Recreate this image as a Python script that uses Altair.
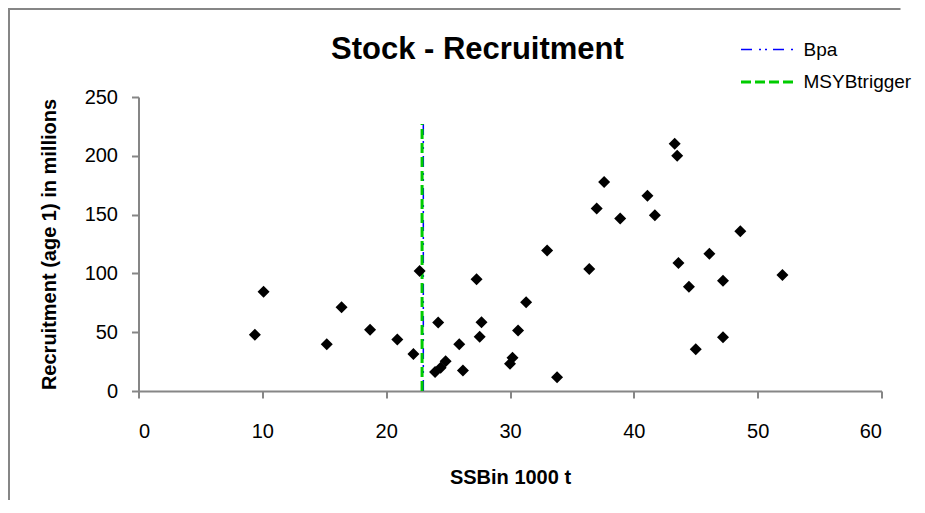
import altair as alt
import pandas as pd

# ---- data ----
ssb = [9.4, 10.1, 15.2, 16.4, 18.7, 20.9, 22.2, 22.7,
       23.95, 24.4, 24.8, 24.2, 25.9, 26.2, 27.3, 27.7, 27.55, 30.0, 30.2,
       30.65, 31.3, 33.0, 33.8, 36.4,
       37.0, 37.6, 38.9, 41.1, 41.7, 43.3, 43.5, 43.6, 44.45, 46.1, 47.2,
       47.2, 45.0, 48.6, 52.0]
recruitment = [47.8, 84.5, 39.8, 71.2, 52.0, 43.8, 31.4, 102.0,
               16.1, 19.8, 25.2, 58.2, 39.8, 17.5, 95.0, 58.5, 46.1, 23.2, 28.3,
               51.4, 75.4, 119.5, 11.6, 103.7,
               155.1, 177.7, 146.6, 166.1, 149.5, 210.2, 200.0, 108.8, 88.7, 116.7, 93.8,
               45.8, 35.6, 135.9, 98.6]

ref_names = ["Bpa", "MSYBtrigger"]
ref_ssb = [23.0, 22.9]
ref_bottom = [0, 0]
ref_top = [227, 227]
ref_colors = ["#0000ff", "#00cc00"]
ref_dashes = [[11, 7, 2, 4, 2, 6], [10, 4]]
ref_widths = [1.5, 3]

x_ticks = [0, 10, 20, 30, 40, 50, 60]
y_ticks = [0, 50, 100, 150, 200, 250]

title_text = "Stock - Recruitment"
x_title = "SSBin 1000 t"
y_title = "Recruitment (age 1) in millions"

FONT = "Liberation Sans"
AXIS_GREY = "#868686"

pts = pd.DataFrame({"ssb": ssb, "rec": recruitment})
rows = []
for n, xv, lo, hi in zip(ref_names, ref_ssb, ref_bottom, ref_top):
    rows.append({"name": n, "ssb": xv, "rec": lo})
    rows.append({"name": n, "ssb": xv, "rec": hi})
lines_df = pd.DataFrame(rows)

W, H = 743, 294
PAD = {"left": 130.5, "top": 89, "right": 35.5, "bottom": 109}

x_enc = alt.X("ssb:Q", scale=alt.Scale(domain=[0, 60], nice=False, zero=False),
              axis=alt.Axis(values=x_ticks, title=x_title, titleX=W / 2, titleY=86,
                            titleBaseline="middle", labelBaseline="middle",
                            labelPadding=33))
y_enc = alt.Y("rec:Q", scale=alt.Scale(domain=[0, 250], nice=False),
              axis=alt.Axis(values=y_ticks, title=y_title, titleAngle=270,
                            titleX=-89, titleY=H / 2, titleBaseline="middle",
                            titleAlign="center", labelPadding=14))

legend = alt.Legend(title=None, orient="none", legendX=614, legendY=-61.5,
                    padding=0, symbolType="M-2,0H2", symbolSize=676,
                    labelOffset=22, rowPadding=8, labelFont=FONT,
                    labelFontSize=19, labelColor="black", labelLimit=0)

# outer chart-area border (top and left edges; the others run off the page)
frame_df = pd.DataFrame({"f": [0]})
frame_top = alt.Chart(frame_df).mark_rule(color=AXIS_GREY, strokeWidth=2).encode(
    x=alt.value(-130.5), x2=alt.value(762), y=alt.value(-88))
frame_left = alt.Chart(frame_df).mark_rule(color=AXIS_GREY, strokeWidth=2).encode(
    x=alt.value(-129.5), y=alt.value(-89), y2=alt.value(420))

lines = alt.Chart(lines_df).mark_line().encode(
    x=x_enc,
    y=y_enc,
    order=alt.Order("rec:Q"),
    color=alt.Color("name:N", scale=alt.Scale(domain=ref_names, range=ref_colors), legend=legend),
    strokeDash=alt.StrokeDash("name:N", scale=alt.Scale(domain=ref_names, range=ref_dashes), legend=legend),
    strokeWidth=alt.StrokeWidth("name:N", scale=alt.Scale(domain=ref_names, range=ref_widths), legend=legend),
)

points = alt.Chart(pts).mark_point(
    shape="diamond", filled=True, color="black", opacity=1, size=144
).encode(x=x_enc, y=y_enc)

title = alt.Chart(pd.DataFrame({"t": [title_text]})).mark_text(
    font=FONT, fontSize=31, fontWeight="bold", align="left",
    baseline="alphabetic", color="black"
).encode(text="t:N", x=alt.value(192.5), y=alt.value(-38))

chart = alt.layer(frame_top, frame_left, lines, points, title).properties(
    width=W, height=H,
    autosize=alt.AutoSizeParams(type="none"),
    padding=PAD,
    background="white",
).configure_view(stroke=None).configure_axis(
    grid=False,
    domainColor=AXIS_GREY, domainWidth=2,
    tickColor=AXIS_GREY, tickWidth=2, tickSize=7,
    labelFont=FONT, labelFontSize=20, labelColor="black",
    titleFont=FONT, titleFontSize=20, titleFontWeight="bold", titleColor="black",
)

chart.save("out.html", embed_options={"renderer": "svg", "actions": False})
